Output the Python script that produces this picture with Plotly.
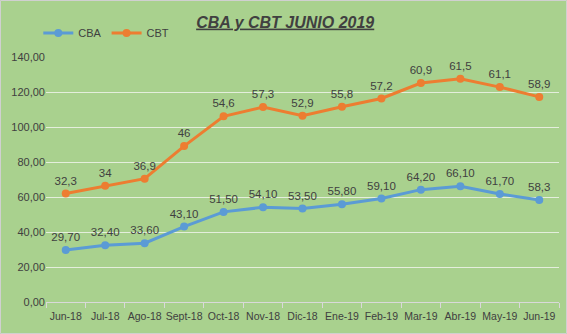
import plotly.graph_objects as go

# Monthly values (stacked line chart: CBT is drawn on top of CBA)
months = ["Jun-18", "Jul-18", "Ago-18", "Sept-18", "Oct-18", "Nov-18", "Dic-18",
          "Ene-19", "Feb-19", "Mar-19", "Abr-19", "May-19", "Jun-19"]
cba = [29.70, 32.40, 33.60, 43.10, 51.50, 54.10, 53.50, 55.80, 59.10, 64.20, 66.10, 61.70, 58.3]
cbt = [32.3, 34, 36.9, 46, 54.6, 57.3, 52.9, 55.8, 57.2, 60.9, 61.5, 61.1, 58.9]
cba_labels = ["29,70", "32,40", "33,60", "43,10", "51,50", "54,10", "53,50",
              "55,80", "59,10", "64,20", "66,10", "61,70", "58,3"]
cbt_labels = ["32,3", "34", "36,9", "46", "54,6", "57,3", "52,9",
              "55,8", "57,2", "60,9", "61,5", "61,1", "58,9"]
y_ticks = [0, 20, 40, 60, 80, 100, 120, 140]

BG = "#A9D18E"
TEXT = "#404040"
FONT = "Liberation Sans"

W, H = 567, 334
ML, MR, MT, MB = 46, 8, 57, 32

fig = go.Figure()
fig.add_trace(go.Scatter(
    x=months, y=cba, name="CBA", stackgroup="one", fill="none",
    mode="lines+markers+text", text=cba_labels, textposition="top center",
    line=dict(color="#5B9BD5", width=3), marker=dict(size=8, color="#5B9BD5"),
    textfont=dict(family=FONT, size=11.5, color=TEXT),
))
fig.add_trace(go.Scatter(
    x=months, y=cbt, name="CBT", stackgroup="one", fill="none",
    mode="lines+markers+text", text=cbt_labels, textposition="top center",
    line=dict(color="#ED7D31", width=3), marker=dict(size=8, color="#ED7D31"),
    textfont=dict(family=FONT, size=11.5, color=TEXT),
))

pw = W - ML - MR
ph = H - MT - MB
# thin frame around the whole chart
fig.add_shape(type="rect", xref="paper", yref="paper",
              x0=(-ML + 0.5) / pw, x1=(pw + MR - 0.5) / pw,
              y0=(-MB + 0.5) / ph, y1=(ph + MT - 0.5) / ph,
              line=dict(color="#D0D0D0", width=1), layer="below")

fig.update_layout(
    width=W, height=H,
    margin=dict(l=ML, r=MR, t=MT, b=MB),
    paper_bgcolor=BG, plot_bgcolor=BG,
    separators=",.",
    font=dict(family=FONT, size=11, color=TEXT),
    title=dict(text="<b><i><u>CBA y CBT JUNIO 2019</u></i></b>",
               x=0.503, xanchor="center", y=1 - 22 / H, yanchor="middle",
               font=dict(family=FONT, size=16, color=TEXT)),
    showlegend=True,
    legend=dict(orientation="h", x=-0.015, xanchor="left",
                y=1 + (MT - 33) / ph, yanchor="middle",
                bgcolor="rgba(0,0,0,0)", font=dict(size=11, color=TEXT),
                itemwidth=30, tracegroupgap=0),
    xaxis=dict(type="category", tickson="boundaries", ticks="outside",
               ticklen=5, tickcolor="#D9D9D9", showline=True,
               linecolor="#D9D9D9", linewidth=1, showgrid=False,
               tickangle=0, tickfont=dict(size=10.5, color=TEXT),
               ticklabelstandoff=4, automargin=False,
               range=[-0.5, len(months) - 0.5]),
    yaxis=dict(range=[0, 140], tickvals=y_ticks, tickformat=".2f",
               showgrid=True, gridcolor="#E4EEDC", gridwidth=1,
               zeroline=False, ticks="", automargin=False,
               tickfont=dict(size=11, color=TEXT)),
)

fig.write_html("out.html")
